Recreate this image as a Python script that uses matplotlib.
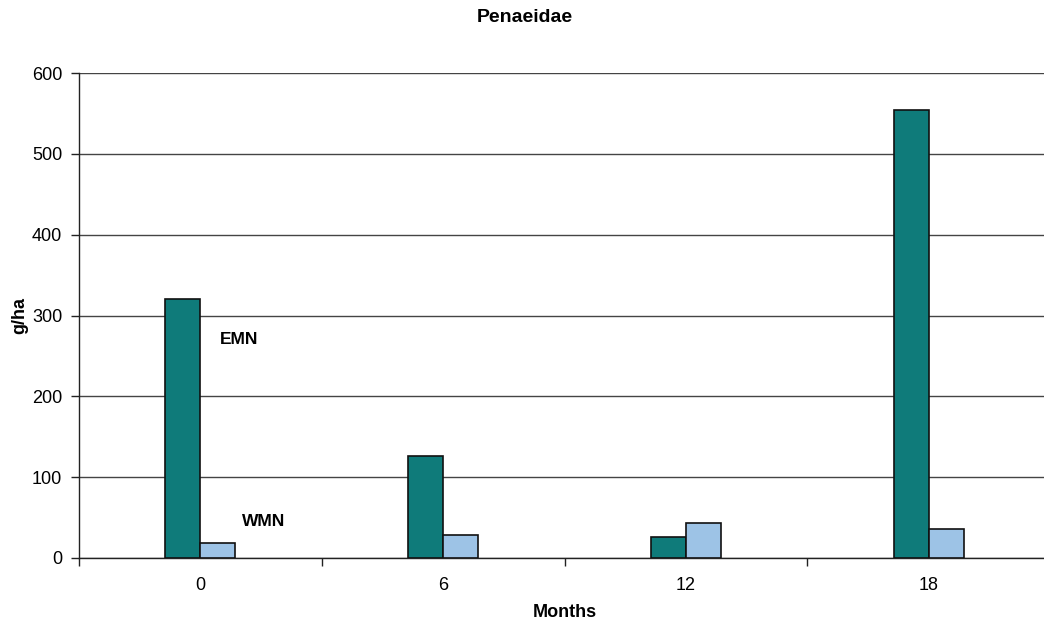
import matplotlib
matplotlib.use("Agg")
import matplotlib.pyplot as plt
import numpy as np

plt.rcParams['font.family'] = ['Liberation Sans', 'DejaVu Sans']

months = ["0", "6", "12", "18"]
emn = [321, 126, 26, 554]
wmn = [19, 29, 43, 36]

fig = plt.figure(figsize=(10.44, 6.26), dpi=100)
ax = fig.add_axes([79 / 1044, 68 / 626, 971 / 1044, 485 / 626])

x = np.arange(len(months))
w = 0.144
ax.bar(x - w / 2, emn, width=w, color="#0F7B7A", edgecolor="#111111", linewidth=1.2, zorder=3)
ax.bar(x + w / 2, wmn, width=w, color="#9DC3E6", edgecolor="#111111", linewidth=1.2, zorder=3)

ax.set_xlim(-0.5, len(months) - 0.5)
ax.set_ylim(0, 600)
ax.set_yticks(np.arange(0, 601, 100))
ax.yaxis.grid(True, color="#444444", linewidth=1.0, zorder=0)
ax.set_axisbelow(True)

# category boundaries carry the tick marks, labels sit at the centres
ax.set_xticks(np.arange(-0.5, len(months)), [""] * (len(months) + 1))
ax.set_xticks(x, months, minor=True)
ax.tick_params(axis="x", which="major", length=6, width=1, color="#222222", direction="out")
ax.tick_params(axis="x", which="minor", length=0, pad=14, labelsize=13)
ax.tick_params(axis="y", length=6, width=1, color="#222222", pad=6, labelsize=13)

for s in ("top", "right"):
    ax.spines[s].set_visible(False)
for s in ("left", "bottom"):
    ax.spines[s].set_color("#222222")
    ax.spines[s].set_linewidth(1.0)

ax.set_xlabel("Months", fontsize=13, fontweight="bold", labelpad=7)
ax.set_ylabel("g/ha", fontsize=13, fontweight="bold", labelpad=3)
fig.text(0.503, 1 - 17 / 626, "Penaeidae", ha="center", va="center",
         fontsize=14, fontweight="bold")

ax.text(0.16, 270, "EMN", fontsize=12.5, fontweight="bold", ha="center", va="center")
ax.text(0.26, 45, "WMN", fontsize=12.5, fontweight="bold", ha="center", va="center")

fig.savefig("out.png", dpi=100)
